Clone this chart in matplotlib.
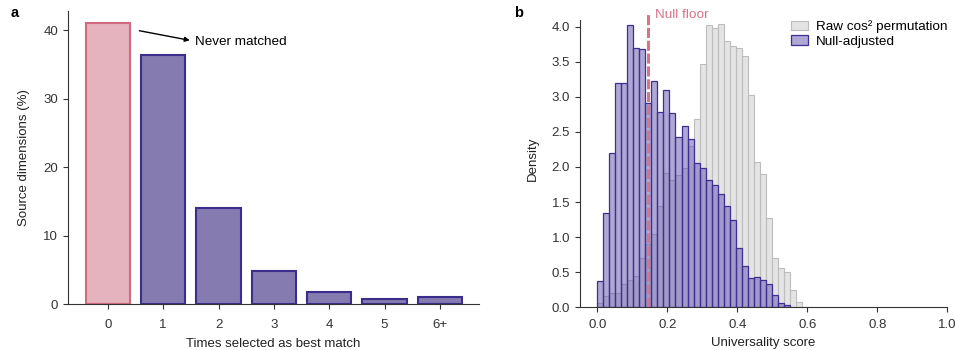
from matplotlib import pyplot as plt
import numpy as np

plt.rcParams['font.family'] = ['Liberation Sans', 'DejaVu Sans']
plt.rcParams['font.size'] = 9.5
plt.rcParams['axes.edgecolor'] = '#333333'
plt.rcParams['xtick.color'] = '#333333'
plt.rcParams['ytick.color'] = '#333333'
plt.rcParams['axes.labelcolor'] = '#222222'

# panel a: how often each source dimension is picked as best match
match_labels = ['0', '1', '2', '3', '4', '5', '6+']
match_pct = [41.0, 36.4, 14.1, 4.9, 1.8, 0.8, 1.1]

# panel b: histogram densities (shared bins starting at 0)
bin_width = 0.0172
raw_density = [0.06, 0.16, 0.21, 0.21, 0.33, 0.39, 0.45, 0.70, 0.90, 1.05,
               1.45, 1.91, 1.82, 1.88, 1.98, 2.30, 2.69, 3.47, 4.02, 3.98,
               4.04, 3.80, 3.72, 3.69, 3.58, 3.02, 2.07, 1.90, 1.27, 0.70,
               0.56, 0.50, 0.25, 0.08, 0.01]
null_density = [0.38, 1.35, 2.20, 3.20, 3.19, 4.02, 3.69, 3.68, 2.91, 3.23,
                2.78, 3.09, 2.77, 2.43, 2.59, 2.40, 2.06, 1.99, 1.82, 1.74,
                1.61, 1.45, 1.25, 0.85, 0.59, 0.42, 0.43, 0.39, 0.33, 0.17,
                0.06, 0.03]
null_floor = 0.145

fig = plt.figure(figsize=(9.55, 3.5), dpi=100)
ax1 = fig.add_axes([0.0712, 0.131, 0.43, 0.838])
ax2 = fig.add_axes([0.607, 0.122, 0.385, 0.846])

# --- a ---
x = np.arange(len(match_labels))
face = ['#E5B3BD'] + ['#857BB0'] * (len(x) - 1)
edge = ['#D06A80'] + ['#3A2D8C'] * (len(x) - 1)
ax1.bar(x, match_pct, width=0.8, color=face, edgecolor=edge, linewidth=1.5)
ax1.set_xticks(x)
ax1.set_xticklabels(match_labels)
ax1.set_xlim(-0.72, 6.7)
ax1.set_ylim(0, 42.8)
ax1.set_yticks([0, 10, 20, 30, 40])
ax1.set_xlabel('Times selected as best match', labelpad=5)
ax1.set_ylabel('Source dimensions (%)', labelpad=10)
ax1.annotate('', xy=(1.48, 38.5), xytext=(0.57, 39.9),
             arrowprops=dict(arrowstyle='-|>', color='black', lw=1,
                             mutation_scale=7, shrinkA=0, shrinkB=0))
ax1.text(1.58, 38.3, 'Never matched', fontsize=9.7, va='center')

# --- b ---
raw_edges = np.arange(len(raw_density)) * bin_width
null_edges = np.arange(len(null_density)) * bin_width
ax2.bar(raw_edges, raw_density, width=bin_width, align='edge',
        color=(0.86, 0.86, 0.86, 0.75), edgecolor='#BDBDBD', linewidth=0.8,
        label='Raw cos² permutation')
ax2.bar(null_edges, null_density, width=bin_width, align='edge',
        color=(0.38, 0.32, 0.68, 0.5), edgecolor='#3D2F94', linewidth=0.9,
        label='Null-adjusted')
ax2.axvline(null_floor, ymax=0.995, color='#D9738A', lw=2.2,
            linestyle=(0, (3.3, 0.9)))
ax2.text(null_floor + 0.019, 4.16, 'Null floor', color='#D9738A',
         fontsize=9.7, va='center')
ax2.set_xlim(-0.05, 1.0)
ax2.set_ylim(0, 4.22)
ax2.spines['left'].set_bounds(0, 4.1)
ax2.set_yticks(np.arange(0, 4.01, 0.5))
ax2.set_xticks([0.0, 0.2, 0.4, 0.6, 0.8, 1.0])
ax2.set_xlabel('Universality score', labelpad=4)
ax2.set_ylabel('Density', labelpad=9)
ax2.legend(loc='upper right', frameon=False, fontsize=9.7,
           bbox_to_anchor=(1.025, 1.0), handlelength=1.2, handletextpad=0.6,
           labelspacing=0.15, borderaxespad=0.3)

for ax in (ax1, ax2):
    ax.spines['top'].set_visible(False)
    ax.spines['right'].set_visible(False)
    ax.tick_params(length=3.5, width=0.8, labelsize=9.5)
ax1.tick_params(axis='x', pad=7)
ax2.tick_params(axis='x', pad=5)

fig.text(0.011, 0.962, 'a', fontsize=10.5, fontweight='bold', va='center')
fig.text(0.538, 0.962, 'b', fontsize=10.5, fontweight='bold', va='center')

fig.savefig('out.png', dpi=100)
